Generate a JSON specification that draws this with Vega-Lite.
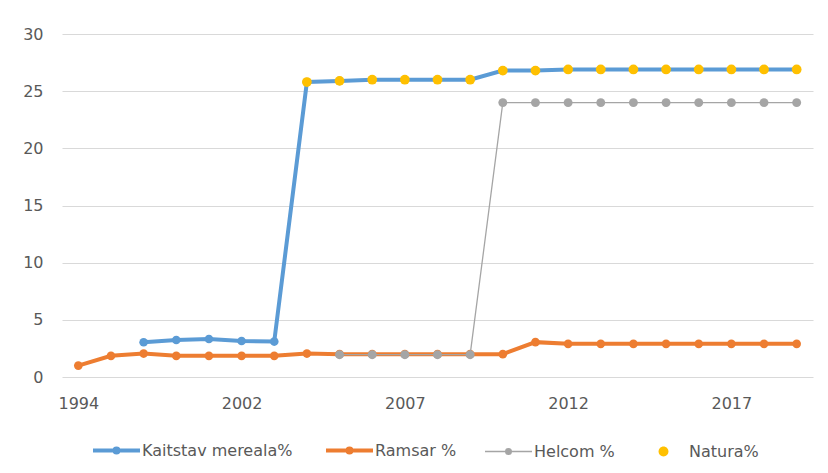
{
  "$schema": "https://vega.github.io/schema/vega-lite/v6.json",
  "autosize": {"type": "none"},
  "padding": {"left": 62, "top": 34, "right": 15, "bottom": 96},
  "width": 751,
  "height": 343,
  "background": "white",
  "config": {
    "view": {"stroke": null},
    "font": "DejaVu Sans",
    "axis": {"labelFont": "DejaVu Sans", "labelFontSize": 16, "labelColor": "#595959"},
    "legend": {"labelFont": "DejaVu Sans", "labelFontSize": 16, "labelColor": "#595959"}
  },
  "data": {
    "values": [
      {"year": "1997", "series": "Kaitstav mereala%", "value": 3.04},
      {"year": "1999", "series": "Kaitstav mereala%", "value": 3.24},
      {"year": "2001", "series": "Kaitstav mereala%", "value": 3.32},
      {"year": "2002", "series": "Kaitstav mereala%", "value": 3.15},
      {"year": "2003", "series": "Kaitstav mereala%", "value": 3.1},
      {"year": "2004", "series": "Kaitstav mereala%", "value": 25.8},
      {"year": "2005", "series": "Kaitstav mereala%", "value": 25.9},
      {"year": "2006", "series": "Kaitstav mereala%", "value": 26.0},
      {"year": "2007", "series": "Kaitstav mereala%", "value": 26.0},
      {"year": "2008", "series": "Kaitstav mereala%", "value": 26.0},
      {"year": "2009", "series": "Kaitstav mereala%", "value": 26.0},
      {"year": "2010", "series": "Kaitstav mereala%", "value": 26.8},
      {"year": "2011", "series": "Kaitstav mereala%", "value": 26.8},
      {"year": "2012", "series": "Kaitstav mereala%", "value": 26.9},
      {"year": "2013", "series": "Kaitstav mereala%", "value": 26.9},
      {"year": "2014", "series": "Kaitstav mereala%", "value": 26.9},
      {"year": "2015", "series": "Kaitstav mereala%", "value": 26.9},
      {"year": "2016", "series": "Kaitstav mereala%", "value": 26.9},
      {"year": "2017", "series": "Kaitstav mereala%", "value": 26.9},
      {"year": "2018", "series": "Kaitstav mereala%", "value": 26.9},
      {"year": "2019", "series": "Kaitstav mereala%", "value": 26.9},

      {"year": "1994", "series": "Ramsar %", "value": 1.0},
      {"year": "1995", "series": "Ramsar %", "value": 1.85},
      {"year": "1997", "series": "Ramsar %", "value": 2.05},
      {"year": "1999", "series": "Ramsar %", "value": 1.85},
      {"year": "2001", "series": "Ramsar %", "value": 1.85},
      {"year": "2002", "series": "Ramsar %", "value": 1.85},
      {"year": "2003", "series": "Ramsar %", "value": 1.85},
      {"year": "2004", "series": "Ramsar %", "value": 2.05},
      {"year": "2005", "series": "Ramsar %", "value": 2.0},
      {"year": "2006", "series": "Ramsar %", "value": 2.0},
      {"year": "2007", "series": "Ramsar %", "value": 2.0},
      {"year": "2008", "series": "Ramsar %", "value": 2.0},
      {"year": "2009", "series": "Ramsar %", "value": 2.0},
      {"year": "2010", "series": "Ramsar %", "value": 2.0},
      {"year": "2011", "series": "Ramsar %", "value": 3.05},
      {"year": "2012", "series": "Ramsar %", "value": 2.9},
      {"year": "2013", "series": "Ramsar %", "value": 2.9},
      {"year": "2014", "series": "Ramsar %", "value": 2.9},
      {"year": "2015", "series": "Ramsar %", "value": 2.9},
      {"year": "2016", "series": "Ramsar %", "value": 2.9},
      {"year": "2017", "series": "Ramsar %", "value": 2.9},
      {"year": "2018", "series": "Ramsar %", "value": 2.9},
      {"year": "2019", "series": "Ramsar %", "value": 2.9},

      {"year": "2005", "series": "Helcom %", "value": 1.95},
      {"year": "2006", "series": "Helcom %", "value": 1.95},
      {"year": "2007", "series": "Helcom %", "value": 1.95},
      {"year": "2008", "series": "Helcom %", "value": 1.95},
      {"year": "2009", "series": "Helcom %", "value": 1.95},
      {"year": "2010", "series": "Helcom %", "value": 24.0},
      {"year": "2011", "series": "Helcom %", "value": 24.0},
      {"year": "2012", "series": "Helcom %", "value": 24.0},
      {"year": "2013", "series": "Helcom %", "value": 24.0},
      {"year": "2014", "series": "Helcom %", "value": 24.0},
      {"year": "2015", "series": "Helcom %", "value": 24.0},
      {"year": "2016", "series": "Helcom %", "value": 24.0},
      {"year": "2017", "series": "Helcom %", "value": 24.0},
      {"year": "2018", "series": "Helcom %", "value": 24.0},
      {"year": "2019", "series": "Helcom %", "value": 24.0},

      {"year": "2004", "series": "Natura%", "value": 25.8},
      {"year": "2005", "series": "Natura%", "value": 25.9},
      {"year": "2006", "series": "Natura%", "value": 26.0},
      {"year": "2007", "series": "Natura%", "value": 26.0},
      {"year": "2008", "series": "Natura%", "value": 26.0},
      {"year": "2009", "series": "Natura%", "value": 26.0},
      {"year": "2010", "series": "Natura%", "value": 26.8},
      {"year": "2011", "series": "Natura%", "value": 26.8},
      {"year": "2012", "series": "Natura%", "value": 26.9},
      {"year": "2013", "series": "Natura%", "value": 26.9},
      {"year": "2014", "series": "Natura%", "value": 26.9},
      {"year": "2015", "series": "Natura%", "value": 26.9},
      {"year": "2016", "series": "Natura%", "value": 26.9},
      {"year": "2017", "series": "Natura%", "value": 26.9},
      {"year": "2018", "series": "Natura%", "value": 26.9},
      {"year": "2019", "series": "Natura%", "value": 26.9}
    ]
  },
  "encoding": {
    "x": {
      "field": "year", "type": "ordinal", "title": null,
      "scale": {"type": "point", "padding": 0.5},
      "axis": {"values": ["1994", "2002", "2007", "2012", "2017"], "labelAngle": 0, "ticks": false, "domain": false, "grid": false, "labelPadding": 18}
    },
    "y": {
      "field": "value", "type": "quantitative", "title": null,
      "scale": {"domain": [0, 30], "nice": false},
      "axis": {"values": [0, 5, 10, 15, 20, 25, 30], "ticks": false, "domain": false, "gridColor": "#D9D9D9", "gridWidth": 1, "labelPadding": 19}
    },
    "color": {
      "field": "series", "type": "nominal", "title": null,
      "scale": {"domain": ["Kaitstav mereala%", "Ramsar %", "Helcom %", "Natura%"], "range": ["#5B9BD5", "#ED7D31", "#A5A5A5", "#FFC000"]},
      "legend": {
        "orient": "none", "direction": "horizontal", "legendX": 31, "legendY": 408.5,
        "padding": 0, "symbolSize": 2209, "labelOffset": 2, "columnPadding": 25, "labelLimit": 400, "symbolOpacity": 1,
        "encode": {
          "symbols": {
            "update": {
              "x": {"value": 23.5},
              "shape": {"signal": "datum.value === 'Natura%' ? 'M-0.21,0A0.21,0.21,0,1,0,0.21,0A0.21,0.21,0,1,0,-0.21,0Z' : (datum.value === 'Helcom %' ? 'M-1,0H1M-0.117,0A0.117,0.117,0,1,0,0.117,0A0.117,0.117,0,1,0,-0.117,0Z' : 'M-1,0H1M-0.085,0A0.085,0.085,0,1,0,0.085,0A0.085,0.085,0,1,0,-0.085,0Z')"},
              "strokeWidth": {"signal": "datum.value === 'Natura%' ? 0 : (datum.value === 'Helcom %' ? 1.5 : 4)"},
              "fill": {"signal": "scale('color', datum.value)"},
              "stroke": {"signal": "scale('color', datum.value)"},
              "opacity": {"value": 1}
            }
          },
          "labels": {
            "update": {
              "x": {"value": 49}
            }
          }
        }
      }
    }
  },
  "layer": [
    {"transform": [{"filter": "datum.series === 'Kaitstav mereala%'"}], "mark": {"type": "line", "strokeWidth": 4}},
    {"transform": [{"filter": "datum.series === 'Kaitstav mereala%'"}], "mark": {"type": "point", "filled": true, "opacity": 1, "size": 75}},
    {"transform": [{"filter": "datum.series === 'Ramsar %'"}], "mark": {"type": "line", "strokeWidth": 4}},
    {"transform": [{"filter": "datum.series === 'Ramsar %'"}], "mark": {"type": "point", "filled": true, "opacity": 1, "size": 75}},
    {"transform": [{"filter": "datum.series === 'Helcom %'"}], "mark": {"type": "line", "strokeWidth": 1.3}},
    {"transform": [{"filter": "datum.series === 'Helcom %'"}], "mark": {"type": "point", "filled": true, "opacity": 1, "size": 80}},
    {"transform": [{"filter": "datum.series === 'Natura%'"}], "mark": {"type": "point", "filled": true, "opacity": 1, "size": 95}}
  ]
}
